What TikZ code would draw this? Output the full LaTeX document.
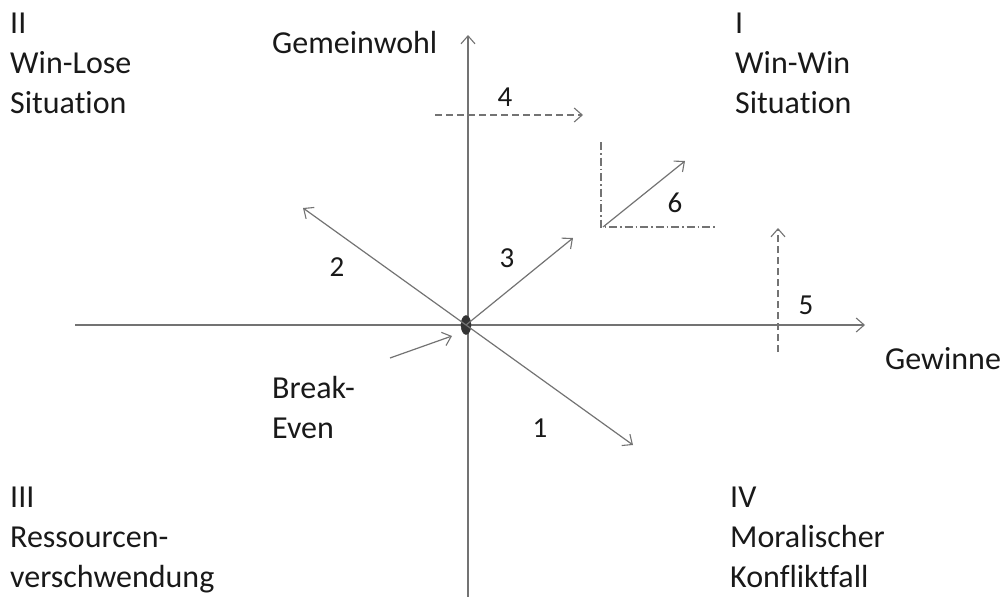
\documentclass[tikz,border=0pt]{standalone}
\usepackage{fontspec}
\setmainfont{Carlito}[Ligatures={NoCommon,NoContextual}]
\usetikzlibrary{arrows.meta,shapes.geometric}
\begin{document}
\begin{tikzpicture}[x=1pt,y=-1pt,
  line/.style={draw=black!55,line width=1.2pt},
  arr/.style={line,-{Straight Barb[length=8pt,width=14pt,line width=1.1pt]}},
  lbl/.style={anchor=base west,inner sep=0pt,font=\fontsize{32}{40}\selectfont,text=black!90},
  num/.style={inner sep=0pt,font=\fontsize{29}{32}\selectfont,text=black!90},
  dashline/.style={dash pattern=on 7pt off 4pt},
  dotdash/.style={dash pattern=on 8pt off 3pt on 1.5pt off 3pt}]
\useasboundingbox (0,0) rectangle (1007,597);
% axes
\coordinate (xs) at (75,325);
\coordinate (xe) at (865,325);
\coordinate (ys) at (468,597);
\coordinate (ye) at (468,35);
\draw[arr] (xs) -- (xe);
\draw[arr] (ys) -- (ye);
% origin
\node[ellipse,fill=black!80,draw=black!80,minimum width=10pt,minimum height=19pt,inner sep=0pt] (O) at (466,325) {};
% vectors
\coordinate (e1) at (633,445);
\coordinate (e2) at (303,208);
\coordinate (e3) at (573,238);
\draw[arr] (O.center) -- (e1);
\draw[arr] (O.center) -- (e2);
\draw[arr] (O.center) -- (e3);
% 4
\coordinate (s4) at (435,115);
\coordinate (e4) at (583,115);
\draw[arr,dashline] (s4) -- (e4);
% 5
\coordinate (s5) at (778,352);
\coordinate (e5) at (778,228);
\draw[arr,dashline] (s5) -- (e5);
% 6
\coordinate (c6t) at (601,142);
\coordinate (c6) at (601,227);
\coordinate (c6r) at (717,227);
\draw[line,dotdash] (c6t) -- (c6) -- (c6r);
\coordinate (s6) at (603,227);
\coordinate (e6) at (685,161);
\draw[arr] (s6) -- (e6);
% break-even
\coordinate (sb) at (390,358);
\coordinate (eb) at (452,336);
\draw[arr] (sb) -- (eb);
% numbers
\node[num] (n1) at (540,428) {1};
\node[num] (n2) at (337,267) {2};
\node[num] (n3) at (507,258) {3};
\node[num] (n4) at (505,97) {4};
\node[num] (n5) at (806,305) {5};
\node[num] (n6) at (675,203) {6};
% axis labels
\node[lbl] (gw) at (272,53) {Gemeinwohl};
\node[lbl] (gn) at (885,369) {Gewinne};
\node[lbl] (be1) at (272,398) {Break-};
\node[lbl] (be2) at (272,438) {Even};
% quadrant labels
\node[lbl] (q2a) at (10,33) {II};
\node[lbl] (q2b) at (10,73) {Win-Lose};
\node[lbl] (q2c) at (10,113) {Situation};
\node[lbl] (q1a) at (735,33) {I};
\node[lbl] (q1b) at (735,73) {Win-Win};
\node[lbl] (q1c) at (735,113) {Situation};
\node[lbl] (q3a) at (10,507) {III};
\node[lbl] (q3b) at (10,547) {Ressourcen-};
\node[lbl] (q3c) at (10,587) {verschwendung};
\node[lbl] (q4a) at (730,507) {IV};
\node[lbl] (q4b) at (730,547) {Moralischer};
\node[lbl] (q4c) at (730,587) {Konfliktfall};
\end{tikzpicture}
\end{document}
